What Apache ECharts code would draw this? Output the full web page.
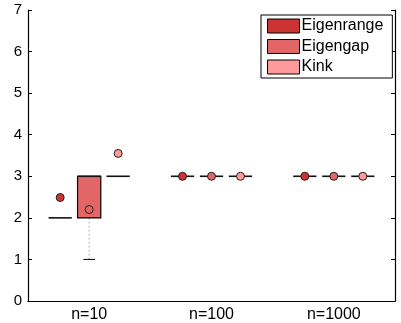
<!DOCTYPE html>
<html>
<head>
<meta charset="utf-8">
<script src="https://cdn.jsdelivr.net/npm/echarts@6/dist/echarts.min.js"></script>
<style>html,body{margin:0;padding:0;background:#fff}#c{width:401px;height:323px}</style>
</head>
<body>
<div id="c"></div>
<script>
var categories = ['n=10', 'n=100', 'n=1000'];
var methods = ['Eigenrange', 'Eigengap', 'Kink'];
var colors = ['#cc3333', '#e26666', '#ff9a9a'];
var yTicks = [0, 1, 2, 3, 4, 5, 6, 7];
// box stats per category: [min, q1, median, q3, max]
var eigenrangeBox = [[2, 2, 2, 2, 2], [3, 3, 3, 3, 3], [3, 3, 3, 3, 3]];
var eigengapBox   = [[1, 2, 3, 3, 3], [3, 3, 3, 3, 3], [3, 3, 3, 3, 3]];
var kinkBox       = [[3, 3, 3, 3, 3], [3, 3, 3, 3, 3], [3, 3, 3, 3, 3]];
// mean per category
var eigenrangeMean = [2.49, 3, 3];
var eigengapMean   = [2.2, 3, 3];
var kinkMean       = [3.55, 3, 3];

var boxes = [eigenrangeBox, eigengapBox, kinkBox];
var means = [eigenrangeMean, eigengapMean, kinkMean];
var FONT = '"Liberation Sans", Arial, Helvetica, sans-serif';

function makeSeries(mi) {
  var data = boxes[mi].map(function (b, ci) {
    return [ci, b[0], b[1], b[2], b[3], b[4], means[mi][ci]];
  });
  return {
    type: 'custom',
    name: methods[mi],
    xAxisIndex: 0,
    yAxisIndex: 0,
    itemStyle: { color: colors[mi], borderColor: '#000', borderWidth: 1 },
    encode: { x: 0, y: [1, 2, 3, 4, 5, 6] },
    data: data,
    renderItem: function (params, api) {
      var ci = api.value(0);
      var band = api.size([1, 0])[0];
      var cx = api.coord([ci, 0])[0] + (mi - 1) * 0.237 * band;
      var hw = 0.095 * band;
      var yMin = api.coord([ci, api.value(1)])[1];
      var yQ1 = api.coord([ci, api.value(2)])[1];
      var yMed = api.coord([ci, api.value(3)])[1];
      var yQ3 = api.coord([ci, api.value(4)])[1];
      var yMax = api.coord([ci, api.value(5)])[1];
      var yMean = api.coord([ci, api.value(6)])[1];
      var ch = [];
      var dotted = { stroke: '#999', lineWidth: 1, lineDash: [1.5, 2.5] };
      if (Math.abs(yMin - yQ1) > 0.5) {
        ch.push({ type: 'line', shape: { x1: cx, y1: yQ1, x2: cx, y2: yMin }, style: dotted });
        ch.push({ type: 'line', shape: { x1: cx - hw / 2, y1: yMin, x2: cx + hw / 2, y2: yMin }, style: { stroke: '#000', lineWidth: 1 } });
      }
      if (Math.abs(yMax - yQ3) > 0.5) {
        ch.push({ type: 'line', shape: { x1: cx, y1: yQ3, x2: cx, y2: yMax }, style: dotted });
        ch.push({ type: 'line', shape: { x1: cx - hw / 2, y1: yMax, x2: cx + hw / 2, y2: yMax }, style: { stroke: '#000', lineWidth: 1 } });
      }
      if (Math.abs(yQ1 - yQ3) > 0.5) {
        ch.push({ type: 'rect', shape: { x: cx - hw, y: yQ3, width: 2 * hw, height: yQ1 - yQ3 },
          style: { fill: colors[mi], stroke: '#000', lineWidth: 1.2 } });
      }
      ch.push({ type: 'line', shape: { x1: cx - hw, y1: yMed, x2: cx + hw, y2: yMed },
        style: { stroke: '#111', lineWidth: 1.6 } });
      ch.push({ type: 'circle', shape: { cx: cx, cy: yMean, r: 4 },
        style: { fill: colors[mi], stroke: '#222', lineWidth: 1 } });
      return { type: 'group', children: ch };
    }
  };
}

var chart = echarts.init(document.getElementById('c'), null, { renderer: 'canvas' });
chart.setOption({
  animation: false,
  backgroundColor: '#fff',
  grid: { left: 28, right: 6, top: 10, bottom: 21, show: false },
  legend: {
    data: methods,
    orient: 'vertical',
    left: 261,
    top: 15,
    padding: [3, 9, 3, 6],
    itemGap: 4.5,
    itemWidth: 32,
    itemHeight: 14,
    icon: 'rect',
    backgroundColor: '#fff',
    borderColor: '#000',
    borderWidth: 1,
    itemStyle: { borderColor: '#000', borderWidth: 1 },
    textStyle: { fontSize: 16, color: '#000', fontFamily: FONT, padding: [0, 0, 0, -3] }
  },
  xAxis: [{
    type: 'category',
    data: categories,
    position: 'bottom',
    axisLine: { lineStyle: { color: '#000', width: 1.2 } },
    axisTick: { inside: true, alignWithLabel: true, length: 4, lineStyle: { color: '#000' } },
    axisLabel: { fontSize: 16, color: '#000', fontFamily: FONT, margin: 6 },
    splitLine: { show: false }
  }, {
    type: 'category',
    data: categories,
    position: 'top',
    axisLine: { lineStyle: { color: '#000', width: 1.2 } },
    axisTick: { inside: true, alignWithLabel: true, length: 4, lineStyle: { color: '#000' } },
    axisLabel: { show: false },
    splitLine: { show: false }
  }],
  yAxis: [{
    type: 'value',
    min: yTicks[0],
    max: yTicks[yTicks.length - 1],
    interval: 1,
    position: 'left',
    axisLine: { show: true, lineStyle: { color: '#000', width: 1.2 } },
    axisTick: { show: true, inside: true, length: 4, lineStyle: { color: '#000' } },
    axisLabel: { fontSize: 15, color: '#000', fontFamily: FONT, margin: 6 },
    splitLine: { show: false }
  }, {
    type: 'value',
    min: yTicks[0],
    max: yTicks[yTicks.length - 1],
    interval: 1,
    position: 'right',
    axisLine: { show: true, lineStyle: { color: '#000', width: 1.2 } },
    axisTick: { show: true, inside: true, length: 4, lineStyle: { color: '#000' } },
    axisLabel: { show: false },
    splitLine: { show: false }
  }],
  series: [makeSeries(0), makeSeries(1), makeSeries(2)]
});
</script>
</body>
</html>
